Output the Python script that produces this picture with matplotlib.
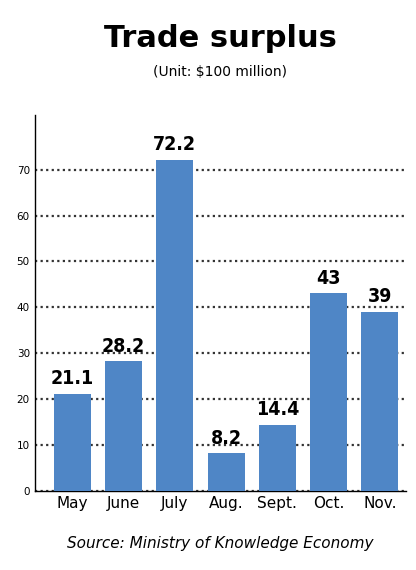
import matplotlib
matplotlib.use("Agg")
import matplotlib.pyplot as plt

months = ["May", "June", "July", "Aug.", "Sept.", "Oct.", "Nov."]
values = [21.1, 28.2, 72.2, 8.2, 14.4, 43, 39]
labels = ["21.1", "28.2", "72.2", "8.2", "14.4", "43", "39"]
yticks = [0, 10, 20, 30, 40, 50, 60, 70]

fig = plt.figure(figsize=(4.16, 5.70), dpi=100)
ax = fig.add_axes([0.085, 0.139, 0.89, 0.66])
x = range(len(months))
ax.bar(x, values, width=0.72, color="#4f86c6", zorder=3)
for i, (v, l) in enumerate(zip(values, labels)):
    ax.text(i, v + 1.2, l, ha="center", va="bottom", fontsize=14,
            fontweight="bold", family="Liberation Sans Narrow", stretch="condensed")
ax.set_xlim(-0.72, 6.5)
ax.set_ylim(0, 82)
ax.set_yticks(yticks)
ax.set_yticklabels([str(t) for t in yticks], fontsize=7.5)
ax.yaxis.grid(True, linestyle=(0, (1, 1.5)), color="#333333", linewidth=1.6, zorder=0)
ax.set_xticks(list(x))
ax.set_xticklabels(months, fontsize=11)
ax.tick_params(axis="both", length=0, pad=4)
for s in ["top", "right"]:
    ax.spines[s].set_visible(False)
ax.spines["left"].set_linewidth(1)
ax.spines["bottom"].set_linewidth(1)
fig.text(0.53, 0.933, "Trade surplus", ha="center", va="center", fontsize=22,
         fontweight="bold", family="Liberation Sans Narrow")
fig.text(0.53, 0.873, "(Unit: $100 million)", ha="center", va="center", fontsize=10)
fig.text(0.53, 0.047, "Source: Ministry of Knowledge Economy", ha="center",
         va="center", fontsize=11, style="italic")
fig.savefig("out.png", dpi=100)
